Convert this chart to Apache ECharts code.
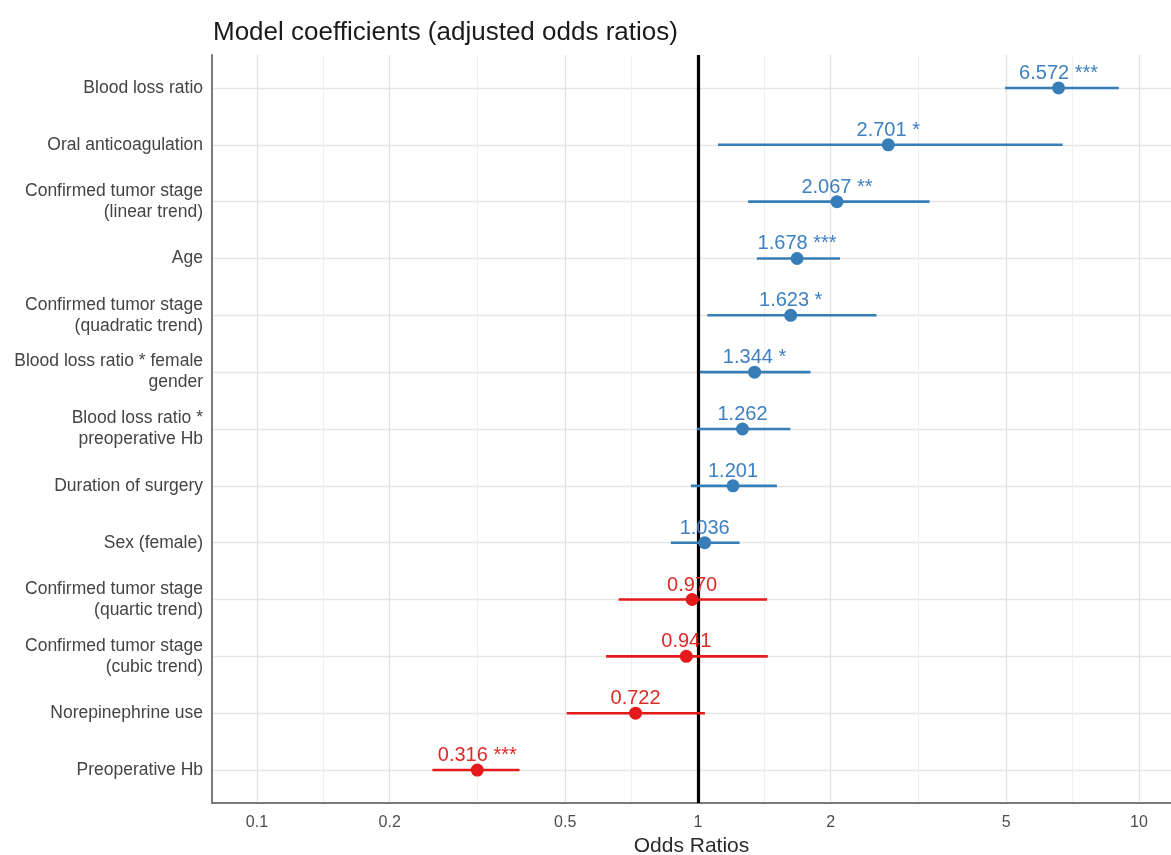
<!DOCTYPE html>
<html>
<head>
<meta charset="utf-8">
<script src="https://cdn.jsdelivr.net/npm/echarts@6/dist/echarts.min.js"></script>
<style>
  html, body { margin: 0; padding: 0; background: #fff; overflow: hidden; }
  #chart { width: 1171px; height: 855px; }
</style>
</head>
<body>
<div id="chart"></div>
<script>
// terms, top to bottom
const terms = [
  'Blood loss ratio',
  'Oral anticoagulation',
  'Confirmed tumor stage\n(linear trend)',
  'Age',
  'Confirmed tumor stage\n(quadratic trend)',
  'Blood loss ratio * female\ngender',
  'Blood loss ratio *\npreoperative Hb',
  'Duration of surgery',
  'Sex (female)',
  'Confirmed tumor stage\n(quartic trend)',
  'Confirmed tumor stage\n(cubic trend)',
  'Norepinephrine use',
  'Preoperative Hb'
];
const oddsRatios = [6.572, 2.701, 2.067, 1.678, 1.623, 1.344, 1.262, 1.201, 1.036, 0.970, 0.941, 0.722, 0.316];
const ciLow  = [4.97, 1.11, 1.30, 1.36, 1.05, 1.01, 0.995, 0.964, 0.868, 0.661, 0.619, 0.504, 0.250];
const ciHigh = [9.00, 6.71, 3.35, 2.10, 2.54, 1.80, 1.62, 1.51, 1.243, 1.435, 1.44, 1.037, 0.394];
const stars  = ['***', '*', '**', '***', '*', '*', '', '', '', '', '', '', '***'];

const majorTicks = [0.1, 0.2, 0.5, 1, 2, 5, 10];
const minorTicks = [0.1414, 0.3162, 0.7071, 1.4142, 3.1623, 7.0711];

const BLUE = '#377eb8';
const RED = '#e41a1c';
const FONT = '"Liberation Sans", Arial, sans-serif';

const chart = echarts.init(document.getElementById('chart'));

const idx = terms.map((t, i) => i);
const pointData = oddsRatios.map((v, i) => ({
  value: [v, i],
  itemStyle: { color: v >= 1 ? BLUE : RED, opacity: 1 },
  label: { color: v >= 1 ? '#3f80c0' : '#db2b27' }
}));
const ciData = oddsRatios.map((v, i) => [ciLow[i], ciHigh[i], i, v >= 1 ? 1 : 0]);

const xMin = 0.0791, xMax = 11.82;

const option = {
  animation: false,
  backgroundColor: '#fff',
  textStyle: { fontFamily: FONT },
  title: {
    text: 'Model coefficients (adjusted odds ratios)',
    left: 208,
    top: 15,
    textStyle: { fontSize: 26, fontWeight: 'normal', color: '#1a1a1a', fontFamily: FONT }
  },
  grid: { left: 212, right: 0, top: 55, bottom: 52, containLabel: false, outerBoundsMode: 'none' },
  xAxis: [
    {
      type: 'log',
      logBase: 10,
      min: xMin,
      max: xMax,
      name: 'Odds Ratios',
      nameLocation: 'middle',
      nameGap: 32,
      nameTextStyle: { fontSize: 21, color: '#2a2a2a' },
      axisLine: { show: true, onZero: false, lineStyle: { color: '#7a7a7a', width: 2 } },
      axisTick: { show: false, customValues: majorTicks },
      axisLabel: {
        customValues: majorTicks,
        fontSize: 16,
        color: '#4d4d4d',
        margin: 12,
        formatter: v => String(+v.toPrecision(3))
      },
      splitLine: { show: true, lineStyle: { color: '#e2e2e2', width: 1.3 } }
    },
    {
      type: 'log',
      logBase: 10,
      min: xMin,
      max: xMax,
      position: 'bottom',
      axisLine: { show: false, onZero: false },
      axisTick: { show: false, customValues: minorTicks },
      axisLabel: { show: false, customValues: minorTicks },
      splitLine: { show: true, lineStyle: { color: '#efefef', width: 1 } }
    }
  ],
  yAxis: {
    type: 'value',
    inverse: true,
    min: -0.58,
    max: 12.58,
    axisLine: { show: true, onZero: false, lineStyle: { color: '#7a7a7a', width: 2 } },
    axisTick: { show: false, customValues: idx },
    axisLabel: {
      customValues: idx,
      fontSize: 17.5,
      color: '#444',
      lineHeight: 21,
      margin: 9,
      align: 'right',
      formatter: v => terms[Math.round(v)]
    },
    splitLine: { show: true, lineStyle: { color: '#e6e6e6', width: 1.3 } }
  },
  series: [
    {
      type: 'custom',
      xAxisIndex: 0,
      data: ciData,
      encode: { x: [0, 1], y: 2 },
      renderItem: function (params, api) {
        const a = api.coord([api.value(0), api.value(2)]);
        const b = api.coord([api.value(1), api.value(2)]);
        return {
          type: 'line',
          shape: { x1: a[0], y1: a[1], x2: b[0], y2: b[1] },
          style: { stroke: api.value(3) ? BLUE : RED, lineWidth: 2.6 }
        };
      },
      z: 3
    },
    {
      type: 'scatter',
      xAxisIndex: 0,
      data: pointData,
      symbolSize: 13,
      z: 4,
      label: {
        show: true,
        position: 'top',
        distance: -2,
        fontSize: 20,
        formatter: p => oddsRatios[p.dataIndex].toFixed(3) + (stars[p.dataIndex] ? ' ' + stars[p.dataIndex] : '')
      },
      markLine: {
        silent: true,
        symbol: ['none', 'none'],
        label: { show: false },
        lineStyle: { color: '#000', width: 3.2, type: 'solid' },
        data: [{ xAxis: 1 }],
        z: 2
      }
    }
  ]
};

chart.setOption(option);
</script>
</body>
</html>
